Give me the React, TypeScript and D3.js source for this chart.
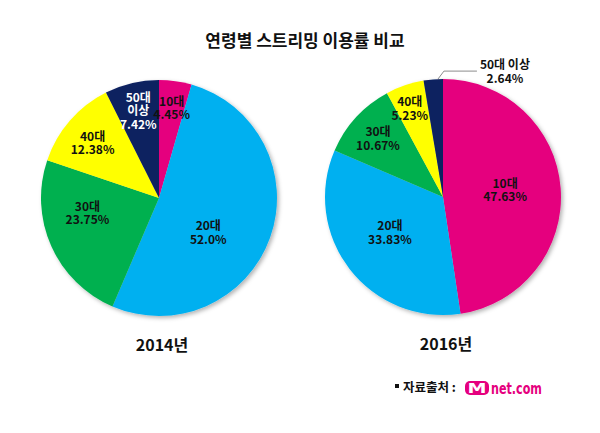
import React from "react";
import * as d3 from "d3";

const categories = ["10대", "20대", "30대", "40대", "50대 이상"];
const values2014 = [4.45, 52.0, 23.75, 12.38, 7.42];
const values2016 = [47.63, 33.83, 10.67, 5.23, 2.64];
const labels2014 = ["4.45%", "52.0%", "23.75%", "12.38%", "7.42%"];
const labels2016 = ["47.63%", "33.83%", "10.67%", "5.23%", "2.64%"];
const years = ["2014년", "2016년"];
const title = "연령별 스트리밍 이용률 비교";

const colors = ["#E5007E", "#00B0F0", "#00B050", "#FFFF00", "#0B2060"];
const textColors = ["#111", "#111", "#111", "#111", "#fff"];

// label placement styles: [radius factor, angle offset]
const place2014: [number, number][] = [
  [0.77, 0],
  [0.51, 0.27],
  [0.62, 0.21],
  [0.73, -0.025],
  [0.76, 0],
];
const place2016: [number, number][] = [
  [0.53, -0.04],
  [0.54, 0.07],
  [0.74, -0.01],
  [0.8, -0.03],
  [-1, 0],
];

const W = 600;
const H = 433;
const R = 118;
const FONT = "'Noto Sans CJK KR', 'Malgun Gothic', sans-serif";

type PieProps = {
  cx: number;
  cy: number;
  values: number[];
  pct: string[];
  place: [number, number][];
  year: string;
};

function Pie({ cx, cy, values, pct, place, year }: PieProps) {
  const pie = d3
    .pie<number>()
    .sort(null)
    .value((d) => d)
    .startAngle(0)
    .endAngle(2 * Math.PI);
  const arcs = pie(values);
  const arc = d3.arc<d3.PieArcDatum<number>>().innerRadius(0).outerRadius(R);

  return (
    <g>
      <g transform={`translate(${cx},${cy})`} filter="url(#shadow)">
        {arcs.map((a, i) => (
          <path key={i} d={arc(a) || ""} fill={colors[i]} />
        ))}
      </g>
      <g transform={`translate(${cx},${cy})`}>
        {arcs.map((a, i) => {
          const [rf, off] = place[i];
          const mid = (a.startAngle + a.endAngle) / 2;
          const name = categories[i];
          if (rf < 0) {
            // outside label with leader line
            const ang = mid + 0.04;
            const sx = R * Math.sin(ang);
            const sy = -R * Math.cos(ang);
            const ex = sx + 6;
            const ey = sy - 8;
            const hx = ex + 33;
            const lx = hx + 28;
            return (
              <g key={i}>
                <polyline
                  points={`${sx},${sy} ${ex},${ey} ${hx},${ey}`}
                  fill="none"
                  stroke="#8c8c8c"
                  strokeWidth={1}
                />
                <text
                  x={lx}
                  y={ey - 2}
                  textAnchor="middle"
                  fontFamily={FONT}
                  fontWeight="bold"
                  fontSize={12}
                  fill="#111"
                >
                  {name}
                </text>
                <text
                  x={lx}
                  y={ey + 12}
                  textAnchor="middle"
                  fontFamily={FONT}
                  fontWeight="bold"
                  fontSize={12}
                  fill="#111"
                >
                  {pct[i]}
                </text>
              </g>
            );
          }
          const ang = mid + off;
          const lx = R * rf * Math.sin(ang);
          const ly = -R * rf * Math.cos(ang);
          const lines = i === 4 ? ["50대", "이상", pct[i]] : [name, pct[i]];
          const lh = 13.5;
          const y0 = ly - ((lines.length - 1) * lh) / 2 + 4.5;
          return (
            <text
              key={i}
              textAnchor="middle"
              fontFamily={FONT}
              fontWeight="bold"
              fontSize={12}
              fill={textColors[i]}
            >
              {lines.map((t, j) => (
                <tspan key={j} x={lx} y={y0 + j * lh}>
                  {t}
                </tspan>
              ))}
            </text>
          );
        })}
      </g>
      <text
        x={cx + 3}
        y={cy + 153}
        textAnchor="middle"
        fontFamily={FONT}
        fontWeight="bold"
        fontSize={16}
        fill="#111"
      >
        {year}
      </text>
    </g>
  );
}

export default function App() {
  return (
    <svg
      width={W}
      height={H}
      viewBox={`0 0 ${W} ${H}`}
      style={{ position: "absolute", left: 0, top: 0, background: "#fff" }}
    >
      <defs>
        <filter id="shadow" x="-20%" y="-20%" width="140%" height="140%">
          <feDropShadow dx="2" dy="2" stdDeviation="2" floodColor="#000" floodOpacity="0.3" />
        </filter>
      </defs>
      <rect width={W} height={H} fill="#fff" />
      <text
        x={305}
        y={47}
        textAnchor="middle"
        fontFamily={FONT}
        fontWeight="bold"
        fontSize={17}
        fill="#111"
      >
        {title}
      </text>
      <Pie cx={159} cy={198} values={values2014} pct={labels2014} place={place2014} year={years[0]} />
      <Pie cx={443} cy={197} values={values2016} pct={labels2016} place={place2016} year={years[1]} />
      <g>
        <rect x={395} y={384} width={4} height={4} fill="#111" />
        <text x={403} y={392} fontFamily={FONT} fontWeight="bold" fontSize={12.5} fill="#111">
          자료출처 :
        </text>
        <rect x={465} y={381} width={24} height={14} rx={5} fill="#E5007E" />
        <text
          x={477}
          y={393}
          textAnchor="middle"
          fontFamily="'DejaVu Sans', sans-serif"
          fontWeight="bold"
          fontSize={14}
          fill="#fff"
          textLength={19}
          lengthAdjust="spacingAndGlyphs"
        >
          M
        </text>
        <text
          x={491}
          y={394}
          fontFamily="'DejaVu Sans', sans-serif"
          fontWeight="bold"
          fontSize={15}
          fill="#E5007E"
          textLength={51}
          lengthAdjust="spacingAndGlyphs"
        >
          net.com
        </text>
      </g>
    </svg>
  );
}
